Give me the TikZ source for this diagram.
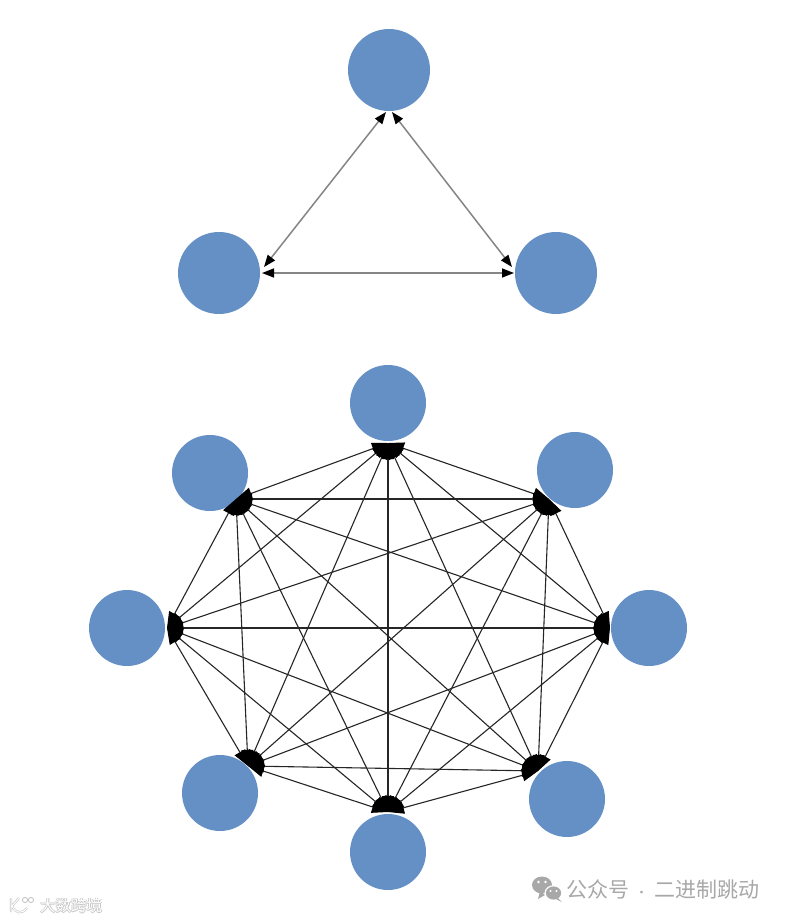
\documentclass[tikz,border=0pt]{standalone}
\usepackage{fontspec}
\newfontfamily\cjk{Noto Sans CJK SC}
\usetikzlibrary{arrows.meta}
\definecolor{nodeblue}{HTML}{6490C6}
\definecolor{wmgray}{HTML}{A8A8A8}
\definecolor{topline}{HTML}{858585}
\definecolor{botline}{HTML}{262626}
\begin{document}
\begin{tikzpicture}[x=1pt,y=-1pt,
  bigvtx/.style={circle,fill=nodeblue,inner sep=0pt,minimum size=82pt},
  smallvtx/.style={circle,fill=nodeblue,inner sep=0pt,minimum size=76pt},
  triedge/.style={draw=topline,line width=1.5pt,
    {Triangle[length=12pt,width=9pt,color=black]}-{Triangle[length=12pt,width=9pt,color=black]}},
  octedge/.style={draw=botline,line width=1.1pt,
    {Triangle[length=16pt,width=12pt,color=black]}-{Triangle[length=16pt,width=12pt,color=black]}},
  wmtext/.style={text=wmgray,font=\cjk\fontsize{21pt}{21pt}\selectfont,inner sep=0pt}
]
\fill[white] (0,0) rectangle (787,921);
\useasboundingbox (0,0) rectangle (787,921);

% ---------- top graph ----------
\node[bigvtx] (a1) at (389,70) {};
\node[bigvtx] (a2) at (219,273) {};
\node[bigvtx] (a3) at (556,273) {};
\coordinate (q1l) at (386,112);
\coordinate (q1r) at (392,112);
\coordinate (q2d) at (264,267);
\coordinate (q2h) at (262,273);
\coordinate (q3d) at (512,267);
\coordinate (q3h) at (514,273);
\draw[triedge] (q1l) -- (q2d);
\draw[triedge] (q1r) -- (q3d);
\draw[triedge] (q2h) -- (q3h);

% ---------- bottom graph ----------
\node[smallvtx] (b1) at (388,403) {};
\node[smallvtx] (b2) at (575,470) {};
\node[smallvtx] (b3) at (649,628) {};
\node[smallvtx] (b4) at (567,799) {};
\node[smallvtx] (b5) at (388,852) {};
\node[smallvtx] (b6) at (220,793) {};
\node[smallvtx] (b7) at (127,628) {};
\node[smallvtx] (b8) at (210,473) {};

\coordinate (p1) at (388,443);
\coordinate (p2) at (549,499);
\coordinate (p3) at (610,628);
\coordinate (p4) at (538,771);
\coordinate (p5) at (388,812);
\coordinate (p6) at (248,766);
\coordinate (p7) at (167,628);
\coordinate (p8) at (236,499);

\foreach \i/\j in {1/2,1/3,1/4,1/5,1/6,1/7,1/8,
                   2/3,2/4,2/5,2/6,2/7,2/8,
                   3/4,3/5,3/6,3/7,3/8,
                   4/5,4/6,4/7,4/8,
                   5/6,5/7,5/8,
                   6/7,6/8,
                   7/8}
  \draw[octedge] (p\i) -- (p\j);

% ---------- watermarks ----------
% WeChat icon
\fill[wmgray] (542,885) ellipse [x radius=10pt,y radius=8.5pt];
\fill[wmgray] (545,895) -- (538,899) -- (540,891) -- cycle;
\fill[white] (553.5,893) ellipse [x radius=9pt,y radius=7.8pt];
\fill[wmgray] (553.5,893) ellipse [x radius=7.6pt,y radius=6.6pt];
\fill[wmgray] (558,898) -- (562,902) -- (556,899) -- cycle;
\fill[white] (538.5,882) circle (1.3pt) (545.5,882) circle (1.3pt)
             (550.5,891) circle (1.1pt) (556.5,891) circle (1.1pt);
\node[wmtext,anchor=west] (wm) at (566,889) {公众号\makebox[25pt]{\fontsize{13pt}{13pt}\selectfont ·}二进制跳动};

% left watermark
\foreach \dx/\dy in {-0.8/0,0.8/0,0/-0.8,0/0.8}{
  \node[text=gray!45,font=\cjk\fontsize{15.5pt}{15.5pt}\selectfont,inner sep=0pt,anchor=west]
    at (40+\dx,906+\dy) {大数跨境};
}
\node[text=white,font=\cjk\fontsize{15.5pt}{15.5pt}\selectfont,inner sep=0pt,anchor=west] (wl) at (40,906) {大数跨境};
\draw[gray!45,line width=2.2pt] (11,898) -- (11,912) (12,906) -- (19,898) (12,906) .. controls (16,914) and (22,914) .. (27,908);
\draw[white,line width=1pt] (11,898) -- (11,912) (12,906) -- (19,898) (12,906) .. controls (16,914) and (22,914) .. (27,908);
\draw[gray!45,line width=0.9pt] (25,900) circle (2.6pt) (31,900) circle (2.6pt);
\end{tikzpicture}
\end{document}
